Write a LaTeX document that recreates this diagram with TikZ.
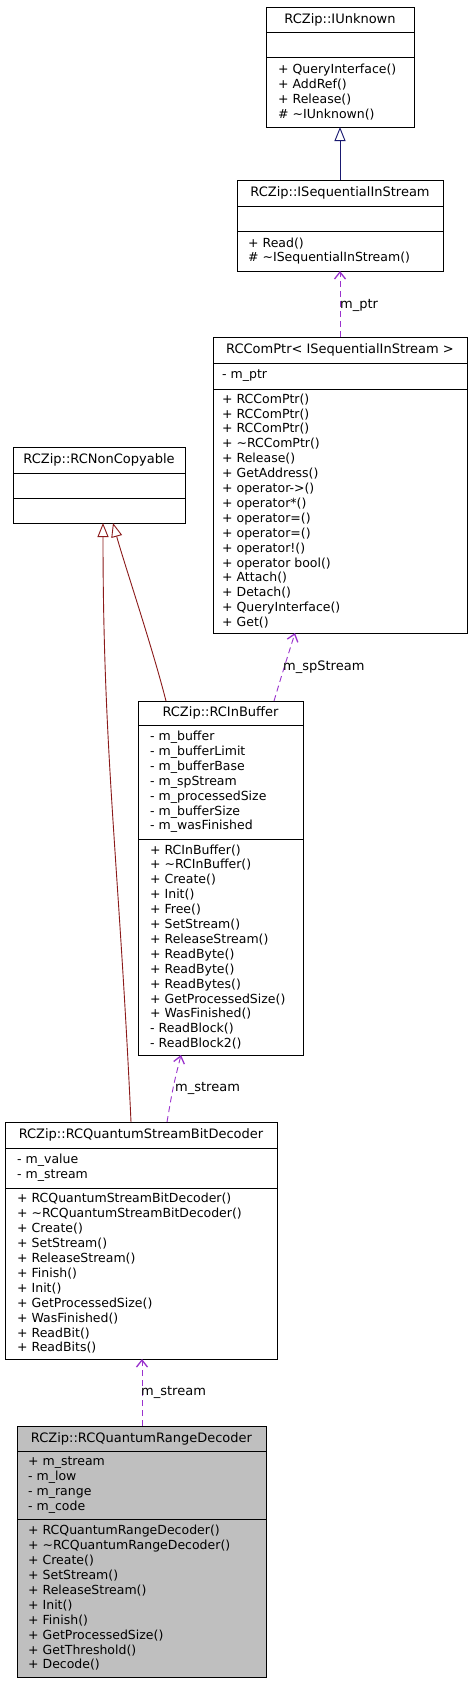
\documentclass[tikz,border=0pt]{standalone}
\usepackage{fontspec}
\setmainfont{DejaVu Sans}
\usetikzlibrary{arrows.meta,calc}
\definecolor{inhblue}{HTML}{191970}
\definecolor{inhred}{HTML}{8B1A1A}
\definecolor{usepurple}{HTML}{9A32CD}
\definecolor{boxgray}{HTML}{BFBFBF}
\newcommand\umlfont{\fontsize{12.5}{14.9}\selectfont}
\newcommand\umltitlefont{\fontsize{13}{14.9}\selectfont}
% name, x1, y1, x2, y2, sep1, sep2, fill
\newcommand\umlclass[8]{%
  \node[umlbox, fill=#8, minimum width={#4-#2}, minimum height={#5-#3}] (#1) at ({(#2+#4)/2},{(#3+#5)/2}) {};
  \draw[black] (#2,#6) -- (#4,#6);
  \draw[black] (#2,#7) -- (#4,#7);
}
\begin{document}
\begin{tikzpicture}[x=1pt,y=-1pt,
  umlbox/.style={draw=black, line width=0.9pt, inner sep=0pt, outer sep=0pt, rectangle},
  umltitle/.style={inner sep=0pt, font=\umltitlefont},
  umllist/.style={inner sep=0pt, anchor=west, align=left, font=\umlfont},
  inh/.style={line width=0.9pt, -{Triangle[open, length=14pt, width=11pt, fill=white]}},
  use/.style={usepurple, line width=0.9pt, dash pattern=on 6pt off 4pt, -{Straight Barb[length=7pt, width=11pt, line width=1.3pt]}},
  lbl/.style={inner sep=0pt, anchor=west, font=\umltitlefont}
]
\useasboundingbox[fill=white] (0,0) rectangle (472,1683);

% RCZip::IUnknown
\umlclass{iunk}{266}{7}{414}{127}{32}{57}{white}
\node[umltitle] (iunkT) at (340,19.5) {RCZip::IUnknown};
\node[umllist] (iunkM) at (278,92) {+ QueryInterface()\\+ AddRef()\\+ Release()\\\# \textasciitilde IUnknown()};

% RCZip::ISequentialInStream
\umlclass{iseq}{237}{180}{443}{271}{206}{231}{white}
\node[umltitle] (iseqT) at (340,193) {RCZip::ISequentialInStream};
\node[umllist] (iseqM) at (248,251) {+ Read()\\\# \textasciitilde ISequentialInStream()};

% RCComPtr
\umlclass{comptr}{213}{337}{467}{633}{363}{389}{white}
\node[umltitle] (comptrT) at (340,350) {RCComPtr< ISequentialInStream >};
\node[umllist] (comptrA) at (222,376) {- m\_ptr};
\node[umllist] (comptrM) at (222,511) {+ RCComPtr()\\+ RCComPtr()\\+ RCComPtr()\\+ \textasciitilde RCComPtr()\\+ Release()\\+ GetAddress()\\+ operator->()\\+ operator*()\\+ operator=()\\+ operator=()\\+ operator!()\\+ operator bool()\\+ Attach()\\+ Detach()\\+ QueryInterface()\\+ Get()};

% RCZip::RCNonCopyable
\umlclass{noncopy}{13}{447}{185}{523}{473}{498}{white}
\node[umltitle] (noncopyT) at (99,460) {RCZip::RCNonCopyable};

% RCZip::RCInBuffer
\umlclass{ibuf}{138}{701}{303}{1055}{725}{839}{white}
\node[umltitle] (ibufT) at (220.5,713) {RCZip::RCInBuffer};
\node[umllist] (ibufA) at (150,782) {- m\_buffer\\- m\_bufferLimit\\- m\_bufferBase\\- m\_spStream\\- m\_processedSize\\- m\_bufferSize\\- m\_wasFinished};
\node[umllist] (ibufM) at (150,947) {+ RCInBuffer()\\+ \textasciitilde RCInBuffer()\\+ Create()\\+ Init()\\+ Free()\\+ SetStream()\\+ ReleaseStream()\\+ ReadByte()\\+ ReadByte()\\+ ReadBytes()\\+ GetProcessedSize()\\+ WasFinished()\\- ReadBlock()\\- ReadBlock2()};

% RCZip::RCQuantumStreamBitDecoder
\umlclass{qsbd}{5}{1122}{277}{1359}{1148}{1188}{white}
\node[umltitle] (qsbdT) at (141,1135) {RCZip::RCQuantumStreamBitDecoder};
\node[umllist] (qsbdA) at (17,1168) {- m\_value\\- m\_stream};
\node[umllist] (qsbdM) at (17,1273.5) {+ RCQuantumStreamBitDecoder()\\+ \textasciitilde RCQuantumStreamBitDecoder()\\+ Create()\\+ SetStream()\\+ ReleaseStream()\\+ Finish()\\+ Init()\\+ GetProcessedSize()\\+ WasFinished()\\+ ReadBit()\\+ ReadBits()};

% RCZip::RCQuantumRangeDecoder
\umlclass{qrd}{17}{1426}{266}{1677}{1451}{1519}{boxgray}
\node[umltitle] (qrdT) at (141.5,1438.5) {RCZip::RCQuantumRangeDecoder};
\node[umllist] (qrdA) at (28,1485) {+ m\_stream\\- m\_low\\- m\_range\\- m\_code};
\node[umllist] (qrdM) at (28,1598) {+ RCQuantumRangeDecoder()\\+ \textasciitilde RCQuantumRangeDecoder()\\+ Create()\\+ SetStream()\\+ ReleaseStream()\\+ Init()\\+ Finish()\\+ GetProcessedSize()\\+ GetThreshold()\\+ Decode()};

% inheritance
\draw[inh, inhblue] (iseq.north) -- (iunk.south);
\draw[inh, inhred] ($(ibuf.north west)+(28,0)$) .. controls ($(ibuf.north west)+(14,-55)$) and ($(noncopy.south west)+(111,40)$) .. ($(noncopy.south west)+(100,0)$);
\draw[inh, inhred] ($(qsbd.north west)+(126,0)$) .. controls ($(qsbd.north west)+(114,-260)$) and ($(noncopy.south west)+(90,230)$) .. ($(noncopy.south west)+(90,0)$);

% usage
\draw[use] (comptr.north) -- (iseq.south);
\node[lbl] (lptr) at (340,305) {m\_ptr};
\draw[use] ($(ibuf.north west)+(136,0)$) .. controls ($(ibuf.north west)+(145,-30)$) .. ($(comptr.south west)+(82,0)$);
\node[lbl] (lsp) at (283,667) {m\_spStream};
\draw[use] ($(qsbd.north west)+(162,0)$) .. controls ($(qsbd.north west)+(168,-35)$) .. ($(ibuf.south west)+(43,0)$);
\node[lbl] (lst1) at (175,1088) {m\_stream};
\draw[use] (qrd.north -| 142,0) -- (qsbd.south -| 142,0);
\node[lbl] (lst2) at (141,1392) {m\_stream};
\end{tikzpicture}
\end{document}
